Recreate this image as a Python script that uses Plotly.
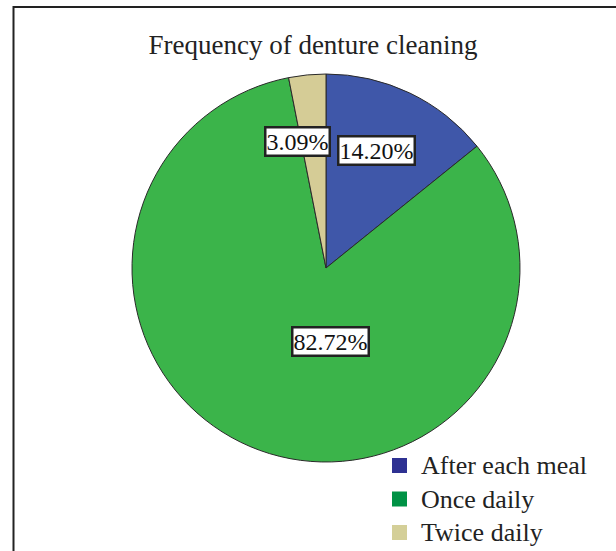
import plotly.graph_objects as go

categories = ["After each meal", "Once daily", "Twice daily"]
percentages = [14.20, 82.72, 3.09]
slice_colors = ["#3f57a9", "#3bb44a", "#d5cc96"]
legend_colors = ["#2e3192", "#009245", "#d4cf98"]

# label box centres (pixels), one per category
label_px = [(376.5, 150.5), (330, 341.5), (297, 141.5)]

W, H = 616, 551
FONT = "Liberation Serif, Times New Roman, serif"


def px(x):
    return x / W


def py(y):
    return 1 - y / H


fig = go.Figure()
fig.add_trace(go.Pie(
    labels=categories,
    values=percentages,
    sort=False,
    direction="clockwise",
    rotation=0,
    marker=dict(colors=slice_colors, line=dict(color="#2a2a2a", width=1)),
    textinfo="none",
    hoverinfo="label+percent",
    showlegend=False,
    domain=dict(x=[px(326 - 194), px(326 + 194)], y=[py(462), py(74)]),
))

for v, (lx, ly) in zip(percentages, label_px):
    fig.add_annotation(
        x=px(lx), y=py(ly), xref="paper", yref="paper",
        text=f"{v:.2f}%", showarrow=False,
        font=dict(family=FONT, size=24, color="#111111"),
        bgcolor="white", bordercolor="#222222", borderwidth=2.5, borderpad=0,
        xanchor="center", yanchor="middle",
    )

# legend (drawn by hand to match the reference's symbol colours and spacing)
legend_rows = [465.5, 499, 532.5]
for name, col, ry in zip(categories, legend_colors, legend_rows):
    fig.add_shape(type="rect", xref="paper", yref="paper",
                  x0=px(392), x1=px(407), y0=py(ry + 7.5), y1=py(ry - 7.5),
                  line=dict(width=0), fillcolor=col)
    fig.add_annotation(x=px(419), y=py(ry), xref="paper", yref="paper",
                       text=name, showarrow=False, xanchor="left", yanchor="middle",
                       font=dict(family=FONT, size=26, color="#222222"))

fig.add_shape(type="rect", xref="paper", yref="paper",
              x0=px(13.5), x1=1.02, y0=-0.02, y1=py(7),
              line=dict(color="#222222", width=2), fillcolor="rgba(0,0,0,0)")

fig.update_layout(
    width=W, height=H,
    margin=dict(l=0, r=0, t=0, b=0),
    paper_bgcolor="white", plot_bgcolor="white",
    title=dict(text="Frequency of denture cleaning", x=px(313), xanchor="center",
               y=py(45), yanchor="middle", yref="paper",
               font=dict(family=FONT, size=27, color="#222222")),
    showlegend=False,
)

fig.write_html("out.html", config={"displayModeBar": False},
               post_script="document.body.style.margin='0';document.body.style.overflow='hidden';")
